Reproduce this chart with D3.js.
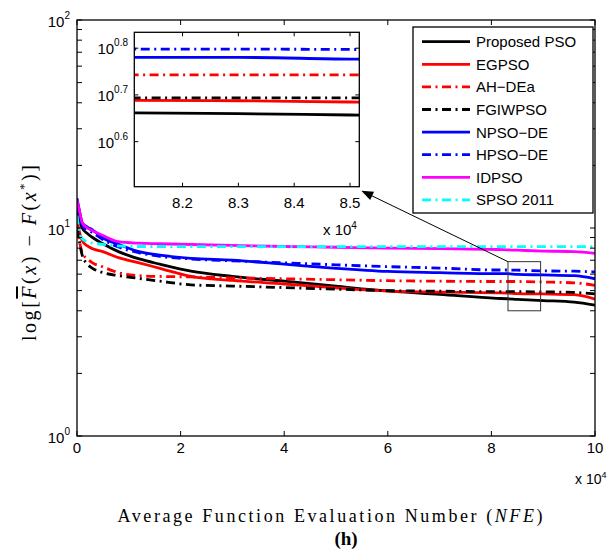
<!DOCTYPE html>
<html>
<head>
<meta charset="utf-8">
<script src="https://cdn.jsdelivr.net/npm/d3@7"></script>
<style>
  body { margin: 0; background: #fff; }
  svg text { font-family: "Liberation Sans", Arial, Helvetica, sans-serif; }
  .serif { font-family: "Liberation Serif", "Times New Roman", serif !important; }
</style>
</head>
<body>
<svg id="chart" width="613" height="551"></svg>
<script>
// NFE in units of 10^4
const nfe = [0, 0.05, 0.1, 0.2, 0.3, 0.5, 0.8, 1.2, 1.6, 2.2, 3, 4, 5, 6, 7, 8.1, 8.3, 8.5, 9, 9.6, 10];

const proposedPSO = [12.0, 10.8, 10.0, 9.4, 9.0, 8.4, 7.7, 7.1, 6.7, 6.2, 5.85, 5.55, 5.25, 4.98, 4.8, 4.59, 4.57, 4.54, 4.48, 4.4, 4.26];
const egpso       = [11.0, 9.5, 8.7, 8.2, 7.95, 7.7, 7.2, 6.8, 6.4, 5.85, 5.6, 5.38, 5.15, 4.97, 4.92, 4.88, 4.87, 4.84, 4.82, 4.78, 4.55];
const ahdea       = [10.5, 8.6, 7.6, 7.1, 6.8, 6.5, 6.1, 5.9, 5.85, 5.82, 5.76, 5.7, 5.64, 5.58, 5.55, 5.53, 5.53, 5.53, 5.5, 5.45, 5.3];
const fgiwpso     = [10.0, 8.5, 7.4, 6.7, 6.4, 6.1, 5.9, 5.72, 5.55, 5.33, 5.26, 5.17, 5.08, 5.0, 4.97, 4.94, 4.94, 4.94, 4.93, 4.9, 4.82];
const npsode      = [13.9, 12.0, 10.6, 10.1, 9.8, 8.95, 8.35, 7.7, 7.4, 7.15, 7.0, 6.7, 6.4, 6.18, 6.1, 6.03, 6.03, 5.98, 5.95, 5.9, 5.7];
const hpsode      = [13.2, 11.5, 10.3, 9.8, 9.5, 8.8, 8.1, 7.6, 7.3, 7.1, 6.95, 6.8, 6.65, 6.52, 6.42, 6.28, 6.28, 6.27, 6.22, 6.2, 6.15];
const idpso       = [13.6, 12.0, 10.6, 10.0, 9.7, 9.2, 8.6, 8.45, 8.4, 8.33, 8.25, 8.15, 8.08, 8.0, 7.95, 7.88, 7.85, 7.82, 7.75, 7.7, 7.55];
const spso2011    = [11.5, 9.5, 8.9, 8.6, 8.45, 8.35, 8.2, 8.15, 8.15, 8.14, 8.14, 8.13, 8.13, 8.13, 8.13, 8.13, 8.13, 8.13, 8.13, 8.13, 8.13];

const seriesNames = ["Proposed PSO", "EGPSO", "AH\u2212DEa", "FGIWPSO", "NPSO\u2212DE", "HPSO\u2212DE", "IDPSO", "SPSO 2011"];
const seriesValues = [proposedPSO, egpso, ahdea, fgiwpso, npsode, hpsode, idpso, spso2011];

const xTicks = [0, 2, 4, 6, 8, 10];
const yTicks = [1, 10, 100];
const insetXTicks = [8.2, 8.3, 8.4, 8.5];
const insetYExp = [0.6, 0.7, 0.8];
const zoomBoxX = [8.32, 8.95];
const zoomBoxY = [4.0, 6.89];

// styles
const colors = ["#000000", "#ff0000", "#ff0000", "#000000", "#0000ff", "#0000ff", "#ff00ff", "#00ffff"];
const dashed = [false, false, true, true, false, true, false, true];
const DASH = "9,4.5,2,4.5";
const LW = 2.8;

const svg = d3.select("#chart");
svg.append("rect").attr("width", 613).attr("height", 551).attr("fill", "#fff");

const L = 77, R = 595, T = 20, B = 436;
const x = d3.scaleLinear().domain([0, 10]).range([L, R]);
const y = d3.scaleLog().domain([1, 100]).range([B, T]);

const series = seriesNames.map((name, i) => ({
  name, color: colors[i], dashed: dashed[i],
  points: nfe.map((n, j) => [n, seriesValues[i][j]])
}));

svg.append("clipPath").attr("id", "mainClip")
  .append("rect").attr("x", L).attr("y", T).attr("width", R - L).attr("height", B - T);

const line = d3.line().x(d => x(d[0])).y(d => y(d[1])).curve(d3.curveMonotoneX);

svg.append("g").attr("clip-path", "url(#mainClip)")
  .selectAll("path").data(series).enter().append("path")
  .attr("d", d => line(d.points))
  .attr("fill", "none")
  .attr("stroke", d => d.color)
  .attr("stroke-width", LW)
  .attr("stroke-dasharray", d => d.dashed ? DASH : null);

// main axes box
svg.append("rect").attr("x", L).attr("y", T).attr("width", R - L).attr("height", B - T)
  .attr("fill", "none").attr("stroke", "#000").attr("stroke-width", 1.3);

const tk = svg.append("g").attr("stroke", "#000").attr("stroke-width", 1);
xTicks.forEach(t => {
  tk.append("line").attr("x1", x(t)).attr("x2", x(t)).attr("y1", B).attr("y2", B - 5);
  tk.append("line").attr("x1", x(t)).attr("x2", x(t)).attr("y1", T).attr("y2", T + 5);
  svg.append("text").attr("x", x(t)).attr("y", B + 17).attr("text-anchor", "middle")
    .attr("font-size", 15).text(t);
});
svg.append("text").attr("x", 575).attr("y", 484).attr("font-size", 14)
  .call(t => { t.append("tspan").text("x 10"); t.append("tspan").attr("dy", -6).attr("font-size", 9).text("4"); });

[1, 10].forEach(dec => {
  for (let k = 2; k <= 9; k++) {
    const v = dec * k;
    tk.append("line").attr("x1", L).attr("x2", L + 5).attr("y1", y(v)).attr("y2", y(v));
    tk.append("line").attr("x1", R).attr("x2", R - 5).attr("y1", y(v)).attr("y2", y(v));
  }
});
yTicks.forEach(v => {
  tk.append("line").attr("x1", L).attr("x2", L + 5).attr("y1", y(v)).attr("y2", y(v));
  tk.append("line").attr("x1", R).attr("x2", R - 5).attr("y1", y(v)).attr("y2", y(v));
  const t = svg.append("text").attr("x", 70).attr("y", y(v) + 6.5).attr("text-anchor", "end").attr("font-size", 15);
  t.append("tspan").text("10");
  t.append("tspan").attr("dy", -8).attr("font-size", 10).text(Math.round(Math.log10(v)));
});

// axis labels
const yl = svg.append("text").attr("class", "serif")
  .attr("transform", "translate(36,253) rotate(-90)")
  .attr("text-anchor", "middle").attr("font-size", 20)
  .attr("textLength", 176).attr("lengthAdjust", "spacing");
yl.append("tspan").text("log[");
yl.append("tspan").attr("font-style", "italic").style("text-decoration", "overline").text("F");
yl.append("tspan").text("(");
yl.append("tspan").attr("font-style", "italic").text("x");
yl.append("tspan").text(") \u2212 ");
yl.append("tspan").attr("font-style", "italic").text("F");
yl.append("tspan").text("(");
yl.append("tspan").attr("font-style", "italic").text("x");
yl.append("tspan").attr("dy", -8).attr("font-size", 13).text("*");
yl.append("tspan").attr("dy", 8).text(")]");

const xl = svg.append("text").attr("class", "serif")
  .attr("x", 330).attr("y", 522).attr("text-anchor", "middle").attr("font-size", 18)
  .attr("textLength", 425).attr("lengthAdjust", "spacing");
xl.append("tspan").text("Average Function Evaluation Number (");
xl.append("tspan").attr("font-style", "italic").text("NFE");
xl.append("tspan").text(")");

svg.append("text").attr("class", "serif").attr("x", 346).attr("y", 545)
  .attr("text-anchor", "middle").attr("font-size", 19).attr("font-weight", "bold").text("(h)");

// zoom box and arrow
const bx0 = x(zoomBoxX[0]), bx1 = x(zoomBoxX[1]), by0 = y(zoomBoxY[1]), by1 = y(zoomBoxY[0]);
svg.append("rect").attr("x", bx0).attr("y", by0).attr("width", bx1 - bx0).attr("height", by1 - by0)
  .attr("fill", "none").attr("stroke", "#333").attr("stroke-width", 1);

// inset
const iL = 134.3, iR = 359.3, iT = 32.3, iB = 186.7;
const xi = d3.scaleLinear().domain([8.1136, 8.5166]).range([iL, iR]);
const yi = d3.scaleLog().domain([Math.pow(10, 0.5036), Math.pow(10, 0.834)]).range([iB, iT]);

const tipX = iR + 2, tipY = iB + 4;
const ang = Math.atan2(tipY - by0, tipX - bx0);
svg.append("line").attr("x1", bx0).attr("y1", by0).attr("x2", tipX - 8 * Math.cos(ang)).attr("y2", tipY - 8 * Math.sin(ang))
  .attr("stroke", "#000").attr("stroke-width", 1);
const ah = 12, aw = 4.5;
const p1 = [tipX - ah * Math.cos(ang) + aw * Math.sin(ang), tipY - ah * Math.sin(ang) - aw * Math.cos(ang)];
const p2 = [tipX - ah * Math.cos(ang) - aw * Math.sin(ang), tipY - ah * Math.sin(ang) + aw * Math.cos(ang)];
svg.append("polygon").attr("points", [[tipX, tipY], p1, p2].map(p => p.join(",")).join(" ")).attr("fill", "#000");

svg.append("rect").attr("x", iL).attr("y", iT).attr("width", iR - iL).attr("height", iB - iT).attr("fill", "#fff");
svg.append("clipPath").attr("id", "insetClip")
  .append("rect").attr("x", iL).attr("y", iT).attr("width", iR - iL).attr("height", iB - iT);
const iline = d3.line().x(d => xi(d[0])).y(d => yi(d[1])).curve(d3.curveMonotoneX);
svg.append("g").attr("clip-path", "url(#insetClip)")
  .selectAll("path").data(series).enter().append("path")
  .attr("d", d => iline(d.points))
  .attr("fill", "none")
  .attr("stroke", d => d.color)
  .attr("stroke-width", LW)
  .attr("stroke-dasharray", d => d.dashed ? DASH : null);
svg.append("rect").attr("x", iL).attr("y", iT).attr("width", iR - iL).attr("height", iB - iT)
  .attr("fill", "none").attr("stroke", "#000").attr("stroke-width", 1.3);

insetXTicks.forEach(t => {
  tk.append("line").attr("x1", xi(t)).attr("x2", xi(t)).attr("y1", iB).attr("y2", iB - 4);
  tk.append("line").attr("x1", xi(t)).attr("x2", xi(t)).attr("y1", iT).attr("y2", iT + 4);
  svg.append("text").attr("x", xi(t)).attr("y", iB + 21).attr("text-anchor", "middle")
    .attr("font-size", 15).text(t.toFixed(1));
});
svg.append("text").attr("x", 323).attr("y", 235).attr("font-size", 15)
  .call(t => { t.append("tspan").text("x 10"); t.append("tspan").attr("dy", -6).attr("font-size", 10).text("4"); });
insetYExp.forEach(e => {
  const v = Math.pow(10, e);
  tk.append("line").attr("x1", iL).attr("x2", iL + 4).attr("y1", yi(v)).attr("y2", yi(v));
  tk.append("line").attr("x1", iR).attr("x2", iR - 4).attr("y1", yi(v)).attr("y2", yi(v));
  const t = svg.append("text").attr("x", 128).attr("y", yi(v) + 6).attr("text-anchor", "end").attr("font-size", 15);
  t.append("tspan").text("10");
  t.append("tspan").attr("dy", -8).attr("font-size", 10).text(e.toFixed(1));
});
tk.raise();

// legend
const lg = svg.append("g");
lg.append("rect").attr("x", 413).attr("y", 27).attr("width", 180).attr("height", 186)
  .attr("fill", "#fff").attr("stroke", "#000").attr("stroke-width", 1.3);
const items = lg.selectAll("g.item").data(series).enter().append("g")
  .attr("transform", (d, i) => "translate(0," + (41.7 + i * 22.6) + ")");
items.append("line").attr("x1", 422).attr("x2", 470).attr("y1", 0).attr("y2", 0)
  .attr("stroke", d => d.color).attr("stroke-width", LW)
  .attr("stroke-dasharray", d => d.dashed ? DASH : null);
items.append("text").attr("x", 476).attr("y", 5.5).attr("font-size", 15).text(d => d.name);
</script>
</body>
</html>
